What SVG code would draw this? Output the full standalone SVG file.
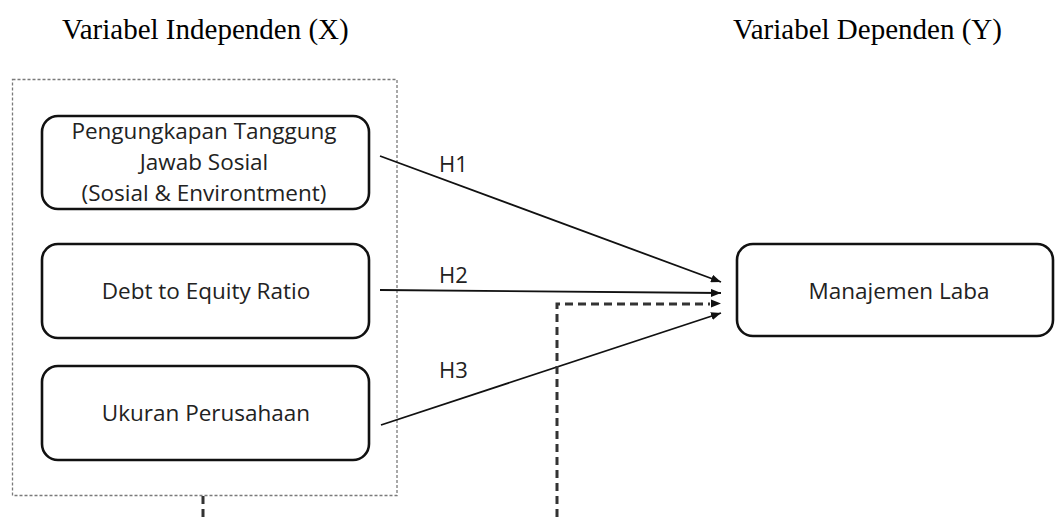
<svg xmlns="http://www.w3.org/2000/svg" width="1056" height="517" viewBox="0 0 1056 517">
<defs>
<style>
.hdr{font-family:"Liberation Serif","Times New Roman",serif;font-size:29px;fill:#000}
.box{fill:#fff;stroke:#111;stroke-width:2.6}
.lbl{font-family:"Open Sans","Noto Sans","Liberation Sans",sans-serif;font-size:22.5px;fill:#222;text-anchor:middle}
.hl{font-family:"Open Sans","Noto Sans","Liberation Sans",sans-serif;font-size:22px;fill:#222}
.frame{fill:none;stroke:#7a7a7a;stroke-width:1.3;stroke-dasharray:3 2}
.edge{fill:none;stroke:#111;stroke-width:1.8}
.dash{fill:none;stroke:#333;stroke-width:3;stroke-dasharray:8 5}
</style>
<marker id="ah" viewBox="0 0 10 8" refX="10" refY="4" markerWidth="10" markerHeight="8" markerUnits="userSpaceOnUse" orient="auto">
<path d="M0,0 L10,4 L0,8 Z" fill="#111"/>
</marker>
</defs>
<rect width="1056" height="517" fill="#fff"/>
<text class="hdr" x="62" y="39">Variabel Independen (X)</text>
<text class="hdr" x="733" y="39">Variabel Dependen (Y)</text>
<rect id="frame" class="frame" x="12.5" y="79.5" width="384.5" height="416"/>
<g id="connectors">
<line class="edge" x1="380" y1="156" x2="721" y2="282" marker-end="url(#ah)"/>
<line class="edge" x1="380" y1="290" x2="721" y2="293" marker-end="url(#ah)"/>
<line class="edge" x1="381" y1="425" x2="721" y2="313" marker-end="url(#ah)"/>
<polyline class="dash" points="557,517 557,304 710,304"/>
<path d="M711,299.5 L721,303.5 L711,307.5 Z" fill="#111"/>
<line class="dash" x1="203" y1="496" x2="203" y2="517"/>
<text class="hl" x="439" y="172">H1</text>
<text class="hl" x="439" y="283">H2</text>
<text class="hl" x="439" y="378">H3</text>
</g>
<g id="n1">
<rect class="box" x="42" y="116" width="327" height="93" rx="16"/>
<text class="lbl" x="204" y="139">Pengungkapan Tanggung</text>
<text class="lbl" x="204" y="170">Jawab Sosial</text>
<text class="lbl" x="204" y="201">(Sosial &amp; Environtment)</text>
</g>
<g id="n2">
<rect class="box" x="42" y="244" width="327" height="94" rx="16"/>
<text class="lbl" x="206" y="299">Debt to Equity Ratio</text>
</g>
<g id="n3">
<rect class="box" x="42" y="366" width="327" height="94" rx="16"/>
<text class="lbl" x="206" y="421">Ukuran Perusahaan</text>
</g>
<g id="n4">
<rect class="box" x="737" y="244" width="316" height="92" rx="16"/>
<text class="lbl" x="899" y="299">Manajemen Laba</text>
</g>
</svg>
